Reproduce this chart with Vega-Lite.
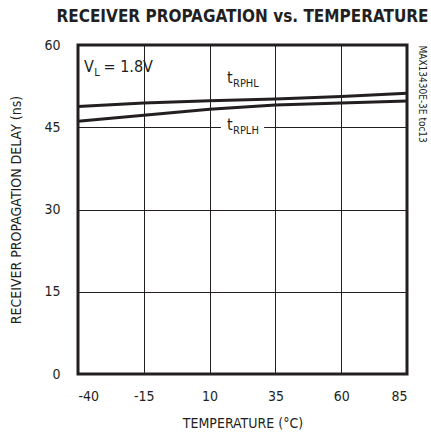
{
  "$schema": "https://vega.github.io/schema/vega-lite/v6.json",
  "width": 329,
  "height": 329,
  "autosize": "none",
  "padding": {"left": 78, "top": 45, "right": 24, "bottom": 60},
  "background": "white",
  "title": {
    "text": "RECEIVER PROPAGATION vs. TEMPERATURE",
    "font": "DejaVu Sans Condensed",
    "fontSize": 17,
    "fontWeight": "bold",
    "color": "#231f20",
    "anchor": "middle",
    "frame": "group",
    "offset": 12
  },
  "config": {
    "view": {"stroke": "#231f20", "strokeWidth": 3},
    "axis": {
      "labelFont": "DejaVu Sans Condensed",
      "titleFont": "DejaVu Sans Condensed",
      "labelFontSize": 14,
      "titleFontSize": 14,
      "titleFontWeight": "normal",
      "labelColor": "#231f20",
      "titleColor": "#231f20",
      "grid": true,
      "gridColor": "#231f20",
      "gridOpacity": 1,
      "gridWidth": 1,
      "ticks": false,
      "domain": false
    }
  },
  "datasets": {
    "curves": [
      {"temp": -40, "delay": 48.8, "series": "tRPHL"},
      {"temp": -15, "delay": 49.4, "series": "tRPHL"},
      {"temp": 10, "delay": 49.85, "series": "tRPHL"},
      {"temp": 35, "delay": 50.15, "series": "tRPHL"},
      {"temp": 60, "delay": 50.6, "series": "tRPHL"},
      {"temp": 85, "delay": 51.2, "series": "tRPHL"},
      {"temp": -40, "delay": 46.1, "series": "tRPLH"},
      {"temp": -15, "delay": 47.2, "series": "tRPLH"},
      {"temp": 10, "delay": 48.3, "series": "tRPLH"},
      {"temp": 35, "delay": 49.05, "series": "tRPLH"},
      {"temp": 60, "delay": 49.4, "series": "tRPLH"},
      {"temp": 85, "delay": 49.8, "series": "tRPLH"}
    ],
    "mainText": [
      {"x": -37.7, "y": 55.1, "label": "V"},
      {"x": 16.6, "y": 53.1, "label": "t"},
      {"x": 16.6, "y": 44.5, "label": "t"}
    ],
    "subText": [
      {"x": -33.8, "y": 54.4, "label": "L"},
      {"x": 18.9, "y": 52.4, "label": "RPHL"},
      {"x": 18.9, "y": 43.8, "label": "RPLH"}
    ],
    "restText": [
      {"x": -30.3, "y": 55.1, "label": "= 1.8V"}
    ],
    "gap": [
      {"x1": 14.3, "x2": 30.7, "y1": 44.2, "y2": 45.8}
    ]
  },
  "resolve": {"axis": {"y": "independent"}},
  "layer": [
    {
      "data": {"name": "curves"},
      "mark": {"type": "line", "strokeWidth": 3, "color": "#231f20"},
      "encoding": {
        "x": {
          "field": "temp", "type": "quantitative",
          "scale": {"domain": [-40, 85], "nice": false},
          "axis": {"values": [-40, -15, 10, 35, 60, 85], "labelExpr": "datum.value < 0 ? '-' + abs(datum.value) : datum.label", "title": "TEMPERATURE (°C)", "labelPadding": 15, "titlePadding": 13}
        },
        "y": {
          "field": "delay", "type": "quantitative",
          "scale": {"domain": [0, 60], "nice": false},
          "axis": {"values": [0, 15, 30, 45, 60], "title": "RECEIVER PROPAGATION DELAY (ns)", "labelPadding": 18, "titlePadding": 20}
        },
        "detail": {"field": "series"}
      }
    },
    {
      "data": {"name": "gap"},
      "mark": {"type": "rect", "color": "white"},
      "encoding": {
        "x": {"field": "x1", "type": "quantitative"},
        "x2": {"field": "x2"},
        "y": {"field": "y1", "type": "quantitative", "axis": {"orient": "right", "title": "MAX13430E-3E toc13", "labels": false, "grid": false, "titleFontSize": 10, "titleAngle": 90, "titleAnchor": "end", "titleAlign": "left", "titleBaseline": "middle", "titlePadding": 14}},
        "y2": {"field": "y2"}
      }
    },
    {
      "data": {"name": "mainText"},
      "mark": {"type": "text", "font": "DejaVu Sans Condensed", "fontSize": 16, "align": "left", "baseline": "alphabetic", "color": "#231f20"},
      "encoding": {
        "x": {"field": "x", "type": "quantitative"},
        "y": {"field": "y", "type": "quantitative", "axis": null},
        "text": {"field": "label"}
      }
    },
    {
      "data": {"name": "subText"},
      "mark": {"type": "text", "font": "DejaVu Sans Condensed", "fontSize": 11, "align": "left", "baseline": "alphabetic", "color": "#231f20"},
      "encoding": {
        "x": {"field": "x", "type": "quantitative"},
        "y": {"field": "y", "type": "quantitative", "axis": null},
        "text": {"field": "label"}
      }
    },
    {
      "data": {"name": "restText"},
      "mark": {"type": "text", "font": "DejaVu Sans Condensed", "fontSize": 16, "align": "left", "baseline": "alphabetic", "color": "#231f20"},
      "encoding": {
        "x": {"field": "x", "type": "quantitative"},
        "y": {"field": "y", "type": "quantitative", "axis": null},
        "text": {"field": "label"}
      }
    }
  ]
}
